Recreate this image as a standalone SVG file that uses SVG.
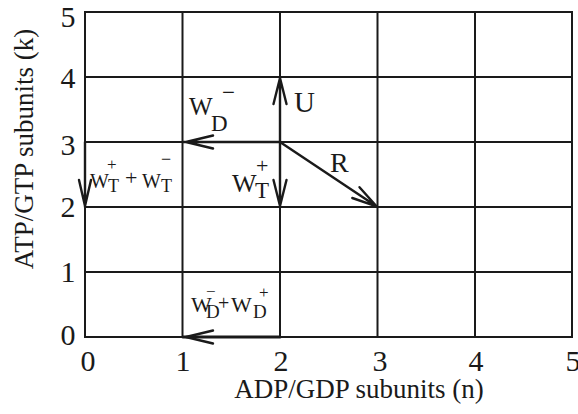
<svg xmlns="http://www.w3.org/2000/svg" width="578" height="414" viewBox="0 0 578 414">
<style>
.g{stroke:#1a1a1a;stroke-width:2;fill:none;stroke-linecap:square}
.a{stroke:#1a1a1a;stroke-width:2.4;fill:none;stroke-linecap:round;stroke-linejoin:round}
text{font-family:"Liberation Serif","Times New Roman",serif;fill:#1a1a1a}
.t{font-size:30px;text-anchor:middle}
.ti{font-size:27px;text-anchor:middle}
</style>
<g id="grid">
<path class="g" d="M85 12H572M85 77H572M85 142H572M85 207H572M85 272H572M85 337H572"/>
<path class="g" d="M85 12V337M182.5 12V337M280 12V337M377.5 12V337M475 12V337M572 12V337"/>
</g>
<g id="ticks">
<text class="t" x="68" y="27">5</text>
<text class="t" x="68" y="88">4</text>
<text class="t" x="68" y="155">3</text>
<text class="t" x="68" y="217">2</text>
<text class="t" x="68" y="282">1</text>
<text class="t" x="68" y="345">0</text>
<text class="t" x="88" y="371">0</text>
<text class="t" x="183" y="371">1</text>
<text class="t" x="281" y="371">2</text>
<text class="t" x="380" y="371">3</text>
<text class="t" x="476" y="371">4</text>
<text class="t" x="573" y="371">5</text>
</g>
<g id="axis-titles">
<text class="ti" x="359" y="398">ADP/GDP subunits (n)</text>
<text class="ti" transform="translate(33 149) rotate(-90)">ATP/GTP subunits (k)</text>
</g>
<g id="connectors">
<g id="arrow-U"><path class="a" d="M280 142V77M273.5 104L280 78L286.5 104"/></g>
<g id="arrow-WDm"><path class="a" d="M280 142H183M213 135.5L186 142L213 148.5"/></g>
<g id="arrow-WTp"><path class="a" d="M280 142V207M273.5 180L280 206L286.5 180"/></g>
<g id="arrow-R"><path class="a" d="M280 142L377.5 207M352.3 198L376.5 206.3L359.5 187.2"/></g>
<g id="arrow-WT"><path class="a" d="M85 142V207M79 180L85 206L91 180"/></g>
<g id="arrow-WD"><path class="a" d="M280 337H183" style="stroke-width:3"/><path class="a" d="M213 330.5L186 337L213 343.5"/></g>
</g>
<g id="label-U"><text x="294" y="112" font-size="29">U</text></g>
<g id="label-R"><text x="330" y="172" font-size="28">R</text></g>
<g id="label-WDm">
<text x="189" y="115" font-size="25">W</text>
<text x="211" y="131" font-size="23">D</text>
<text x="222" y="100" font-size="23">−</text>
</g>
<g id="label-WTp">
<text x="232" y="192" font-size="26">W</text>
<text x="255" y="198" font-size="23">T</text>
<text x="256" y="173" font-size="22">+</text>
</g>
<g id="label-WT">
<text x="90" y="188" font-size="20">W</text>
<text x="108" y="192" font-size="18">T</text>
<text x="107" y="170" font-size="17">+</text>
<text x="125" y="185" font-size="22">+</text>
<text x="142" y="188" font-size="20">W</text>
<text x="161" y="192" font-size="18">T</text>
<text x="161" y="165" font-size="18">−</text>
</g>
<g id="label-WD">
<text x="191" y="312" font-size="22">W</text>
<text x="206" y="318" font-size="19">D</text>
<text x="206" y="297" font-size="17">−</text>
<text x="218" y="310" font-size="20">+</text>
<text x="231" y="312" font-size="22">W</text>
<text x="253" y="318" font-size="19">D</text>
<text x="259" y="298" font-size="17">+</text>
</g>
</svg>
